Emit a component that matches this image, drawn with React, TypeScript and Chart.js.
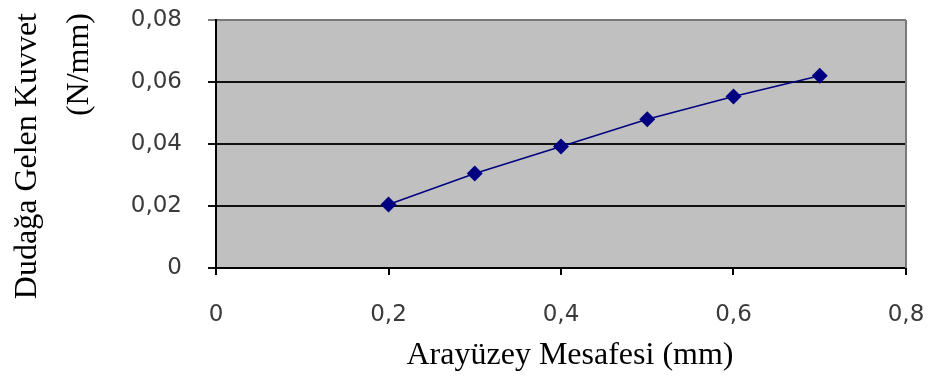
import React, { useEffect, useRef } from "react";
import { Chart, registerables } from "chart.js";

Chart.register(...registerables);

const distances = [0.2, 0.3, 0.4, 0.5, 0.6, 0.7];
const forces = [0.0205, 0.0305, 0.0392, 0.048, 0.0553, 0.062];
const yTitleLines = ["Dudağa Gelen Kuvvet", "(N/mm)"];
const xTitle = "Arayüzey Mesafesi (mm)";

const fmt = (v: number) => (Math.round(v * 100) / 100).toString().replace(".", ",");

const titlesPlugin = {
  id: "titles",
  afterDraw(chart: any) {
    const ctx = chart.ctx;
    const area = chart.chartArea;
    ctx.save();
    ctx.strokeStyle = "#7a7a7a";
    ctx.lineWidth = 2;
    ctx.beginPath();
    ctx.moveTo(area.right, area.top);
    ctx.lineTo(area.right, area.bottom);
    ctx.stroke();
    ctx.fillStyle = "#000";
    ctx.font = "32px 'Liberation Serif'";
    ctx.textAlign = "center";
    ctx.textBaseline = "middle";
    ctx.fillText(xTitle, 570, 356);
    ctx.textAlign = "right";
    const xs = [28, 80];
    yTitleLines.forEach((t, i) => {
      ctx.save();
      ctx.translate(xs[i], 13);
      ctx.rotate(-Math.PI / 2);
      ctx.fillText(t, 0, 0);
      ctx.restore();
    });
    ctx.restore();
  },
};

const bgPlugin = {
  id: "plotBg",
  beforeDraw(chart: any) {
    const { ctx, chartArea: a } = chart;
    ctx.save();
    ctx.fillStyle = "#fff";
    ctx.fillRect(0, 0, chart.width, chart.height);
    ctx.fillStyle = "#c0c0c0";
    ctx.fillRect(a.left, a.top, a.right - a.left, a.bottom - a.top);
    ctx.restore();
  },
};

export default function App() {
  const ref = useRef<HTMLCanvasElement>(null);
  useEffect(() => {
    const chart = new Chart(ref.current!, {
      type: "line",
      data: {
        datasets: [
          {
            data: distances.map((x, i) => ({ x, y: forces[i] })),
            borderColor: "#000080",
            backgroundColor: "#000080",
            borderWidth: 1.5,
            pointStyle: "rectRot",
            pointRadius: 8,
            pointBorderWidth: 0,
            tension: 0,
          },
        ],
      },
      options: {
        responsive: false,
        animation: false,
        layout: { padding: { top: 20, right: 24, left: 0, bottom: 0 } },
        plugins: { legend: { display: false }, tooltip: { enabled: false } },
        scales: {
          x: {
            type: "linear",
            min: 0,
            max: 0.8,
            afterFit: (s: any) => {
              s.height = 115;
              s.paddingLeft = 0;
              s.paddingRight = 0;
              s.paddingTop = 0;
              s.paddingBottom = 0;
            },
            ticks: {
              stepSize: 0.2,
              callback: (v: any) => fmt(Number(v)),
              font: { family: "'DejaVu Sans'", size: 23 },
              color: "#3a3a3a",
              padding: 26,
              maxRotation: 0,
            },
            grid: {
              drawOnChartArea: false,
              drawTicks: true,
              tickLength: 7,
              color: "#000",
              lineWidth: 2,
            },
            border: { color: "#000", width: 2 },
          },
          y: {
            min: 0,
            max: 0.08,
            afterFit: (s: any) => {
              s.width = 216;
              s.paddingLeft = 0;
              s.paddingRight = 0;
              s.paddingTop = 0;
              s.paddingBottom = 0;
            },
            ticks: {
              stepSize: 0.02,
              callback: (v: any) => fmt(Number(v)),
              font: { family: "'DejaVu Sans'", size: 23 },
              color: "#3a3a3a",
              padding: 26,
            },
            grid: {
              drawTicks: true,
              tickLength: 8,
              color: (c: any) => (c.index === 4 ? "#7a7a7a" : "#111"),
              lineWidth: 2,
            },
            border: { color: "#000", width: 2 },
          },
        },
      },
      plugins: [bgPlugin, titlesPlugin],
    });
    return () => chart.destroy();
  }, []);
  return (
    <div style={{ position: "fixed", left: 0, top: 0, width: 930, height: 383, background: "#fff" }}>
      <canvas ref={ref} width={930} height={383} />
    </div>
  );
}
